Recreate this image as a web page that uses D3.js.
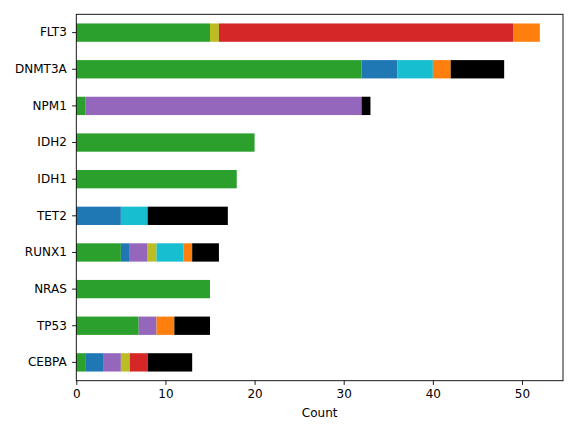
<!DOCTYPE html>
<html>
<head>
<meta charset="utf-8">
<script src="https://cdn.jsdelivr.net/npm/d3@7"></script>
<style>
  body { margin: 0; background: #fff; }
  text { font-family: "DejaVu Sans", sans-serif; }
</style>
</head>
<body>
<div id="chart"></div>
<script>
// genes, top to bottom
const genes = ["FLT3", "DNMT3A", "NPM1", "IDH2", "IDH1", "TET2", "RUNX1", "NRAS", "TP53", "CEBPA"];

// stacked series, in stacking order (left to right), one value per gene
const seriesNames = ["s1", "s2", "s3", "s4", "s5", "s6", "s7", "s8"];
const seriesColors = ["#2ca02c", "#1f77b4", "#9467bd", "#bcbd22", "#d62728", "#17becf", "#ff7f0e", "#000000"];
const s1 = [15, 32, 1, 20, 18, 0, 5, 15, 7, 1];
const s2 = [0, 4, 0, 0, 0, 5, 1, 0, 0, 2];
const s3 = [0, 0, 31, 0, 0, 0, 2, 0, 2, 2];
const s4 = [1, 0, 0, 0, 0, 0, 1, 0, 0, 1];
const s5 = [33, 0, 0, 0, 0, 0, 0, 0, 0, 2];
const s6 = [0, 4, 0, 0, 0, 3, 3, 0, 0, 0];
const s7 = [3, 2, 0, 0, 0, 0, 1, 0, 2, 0];
const s8 = [0, 6, 1, 0, 0, 9, 3, 0, 4, 5];
const seriesValues = [s1, s2, s3, s4, s5, s6, s7, s8];

const xTicks = [0, 10, 20, 30, 40, 50];

// build table for d3.stack
const table = genes.map((g, i) => {
  const row = { gene: g };
  seriesNames.forEach((s, j) => row[s] = seriesValues[j][i]);
  return row;
});
const stacked = d3.stack().keys(seriesNames)(table);
const colorScale = d3.scaleOrdinal().domain(seriesNames).range(seriesColors);

// dimensions
const width = 576, height = 432;
const margin = { top: 14.3, right: 13, bottom: 51.3, left: 76.3 };
const fontSize = 12;

const maxTotal = d3.max(table, d => d3.sum(seriesNames, s => d[s]));
const x = d3.scaleLinear()
  .domain([0, maxTotal * 1.05])
  .range([margin.left, width - margin.right]);
const y = d3.scaleBand()
  .domain(genes)
  .range([margin.top, height - margin.bottom])
  .paddingInner(0.5)
  .paddingOuter(0.25);

const svg = d3.select("#chart").append("svg").attr("width", width).attr("height", height);

// bars
svg.selectAll("g.series")
  .data(stacked)
  .join("g")
  .attr("class", "series")
  .attr("fill", d => colorScale(d.key))
  .selectAll("rect")
  .data(d => d.filter(p => p[1] > p[0]))
  .join("rect")
  .attr("x", d => x(d[0]))
  .attr("y", d => y(d.data.gene))
  .attr("width", d => x(d[1]) - x(d[0]))
  .attr("height", y.bandwidth());

// axes
const xAxis = svg.append("g")
  .attr("transform", `translate(0,${height - margin.bottom})`)
  .call(d3.axisBottom(x).tickValues(xTicks).tickSize(4.2).tickPadding(4.3).tickSizeOuter(0));
const yAxis = svg.append("g")
  .attr("transform", `translate(${margin.left},0)`)
  .call(d3.axisLeft(y).tickSize(4.2).tickPadding(5.3).tickSizeOuter(0));

[xAxis, yAxis].forEach(a => {
  a.select(".domain").remove();
  a.selectAll("line").attr("stroke", "#000").attr("stroke-width", 0.9);
  a.selectAll("text").attr("font-size", fontSize).attr("fill", "#000").attr("font-family", "DejaVu Sans");
});

// frame
svg.append("rect")
  .attr("x", margin.left).attr("y", margin.top)
  .attr("width", width - margin.left - margin.right)
  .attr("height", height - margin.top - margin.bottom)
  .attr("fill", "none").attr("stroke", "#000").attr("stroke-width", 0.9);

// axis label
svg.append("text")
  .attr("x", (margin.left + width - margin.right) / 2)
  .attr("y", height - margin.bottom + 36)
  .attr("text-anchor", "middle")
  .attr("font-size", fontSize)
  .text("Count");
</script>
</body>
</html>
